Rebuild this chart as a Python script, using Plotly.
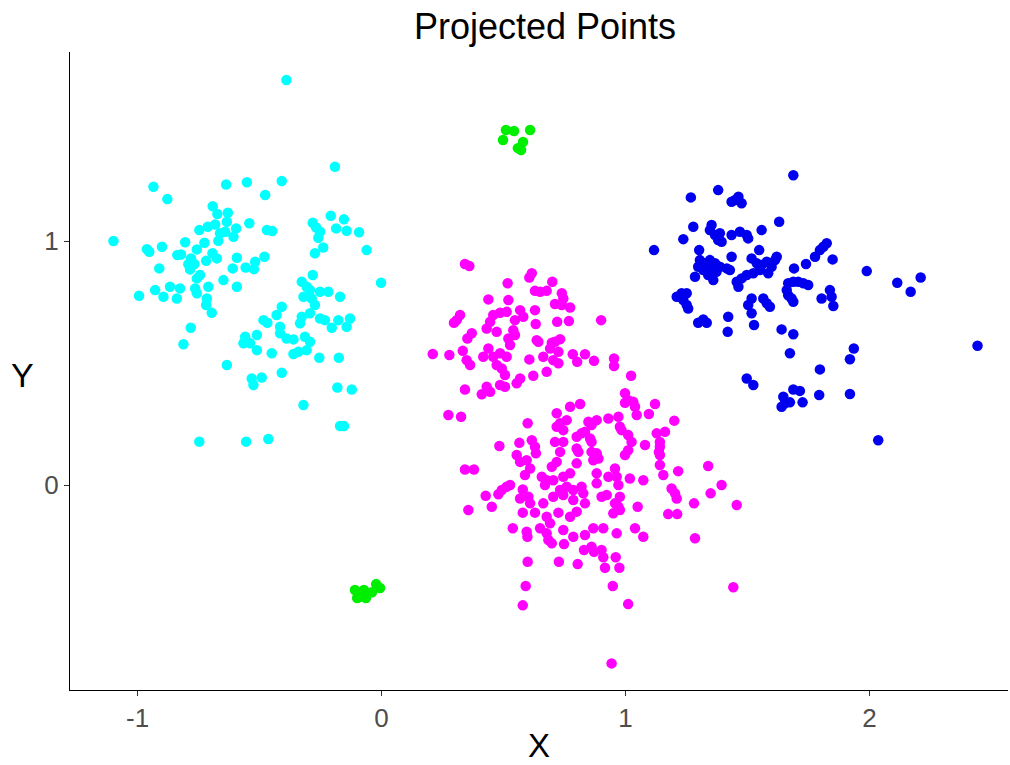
import plotly.graph_objects as go

# Cluster point data (x, y)
cyan_pts = [
(-0.935,1.223),(-0.878,1.172),(-0.637,1.232),(-0.552,1.241),(-1.099,1.000),(-0.692,1.143),(-0.673,1.111),(-0.630,1.116),
(-0.634,1.079),(-0.542,1.073),(-0.747,1.045),(-0.712,1.059),(-0.682,1.068),(-0.662,1.032),(-0.641,1.038),(-0.596,1.052),
(-0.607,1.018),(-0.669,1.001),(-0.962,0.967),(-0.952,0.956),(-0.900,0.977),(-0.805,0.995),(-0.726,0.993),(-0.757,0.966),
(-0.837,0.943),(-0.822,0.945),(-0.781,0.929),(-0.693,0.950),(-0.675,0.929),(-0.719,0.919),(-0.593,0.932),(-0.911,0.888),
(-0.792,0.905),(-0.767,0.906),(-0.785,0.884),(-0.610,0.888),(-0.557,0.892),(-0.744,0.861),(-0.757,0.847),(-0.648,0.840),
(-0.593,0.813),(-0.867,0.813),(-0.826,0.806),(-0.928,0.799),(-0.894,0.772),(-0.839,0.765),(-0.994,0.776),(-0.764,0.806),
(-0.757,0.786),(-0.710,0.813),(-0.716,0.765),(-0.719,0.738),(-0.696,0.706),(-0.782,0.645),
(-0.191,1.305),(-0.409,1.246),(-0.477,1.189),(-0.208,1.104),(-0.154,1.089),(-0.282,1.075),(-0.186,1.052),(-0.143,1.042),
(-0.092,1.036),(-0.470,1.045),(-0.448,1.041),(-0.268,1.056),(-0.252,1.038),(-0.259,1.014),(-0.239,0.974),(-0.273,0.950),
(-0.061,0.963),(-0.480,0.936),(-0.518,0.915),(-0.523,0.885),(-0.002,0.829),(-0.282,0.861),(-0.327,0.833),(-0.307,0.813),
(-0.293,0.799),(-0.252,0.792),(-0.218,0.792),(-0.320,0.772),(-0.286,0.765),(-0.273,0.738),(-0.170,0.772),(-0.409,0.731),
(-0.812,0.577),(-0.430,0.697),(-0.484,0.676),(-0.468,0.665),(-0.327,0.690),(-0.293,0.704),(-0.252,0.683),(-0.232,0.676),
(-0.177,0.676),(-0.129,0.683),(-0.204,0.645),(-0.143,0.649),(-0.334,0.663),(-0.416,0.649),(-0.416,0.622),(-0.389,0.601),
(-0.361,0.597),(-0.511,0.615),(-0.559,0.608),(-0.566,0.581),(-0.539,0.581),(-0.511,0.553),(-0.450,0.540),(-0.314,0.608),
(-0.293,0.587),(-0.307,0.553),(-0.341,0.546),(-0.361,0.537),(-0.255,0.522),(-0.175,0.522),(-0.634,0.492),(-0.409,0.460),
(-0.532,0.437),(-0.491,0.441),(-0.525,0.410),(-0.181,0.400),(-0.122,0.392),(-0.320,0.328),(-0.170,0.242),(-0.154,0.242),
(-0.747,0.178),(-0.555,0.178),(-0.464,0.189),(-0.390,1.660),
]

magenta_pts = [
(0.342,0.906),(0.360,0.898),(0.517,0.827),(0.438,0.761),(0.520,0.758),(0.322,0.697),(0.308,0.676),(0.297,0.665),
(0.458,0.697),(0.486,0.706),(0.445,0.669),(0.431,0.642),(0.472,0.628),(0.513,0.710),(0.370,0.622),(0.352,0.601),
(0.520,0.601),(0.210,0.537),(0.278,0.533),(0.333,0.550),(0.349,0.512),(0.363,0.492),(0.438,0.560),(0.417,0.526),
(0.458,0.526),(0.486,0.540),(0.513,0.526),(0.472,0.492),(0.493,0.478),(0.506,0.451),(0.342,0.392),(0.431,0.403),
(0.445,0.382),(0.411,0.372),(0.486,0.410),(0.506,0.403),
(0.616,0.868),(0.606,0.851),(0.700,0.833),(0.629,0.796),(0.650,0.792),(0.677,0.796),(0.739,0.786),(0.745,0.765),
(0.711,0.742),(0.739,0.738),(0.773,0.728),(0.629,0.717),(0.568,0.717),(0.581,0.690),(0.547,0.676),(0.720,0.669),
(0.768,0.672),(0.900,0.676),(0.632,0.660),(0.540,0.635),(0.547,0.615),(0.527,0.574),(0.636,0.594),(0.643,0.587),
(0.698,0.583),(0.711,0.587),(0.732,0.598),(0.691,0.560),(0.725,0.546),(0.663,0.526),(0.704,0.512),(0.725,0.499),
(0.606,0.515),(0.677,0.464),(0.784,0.536),(0.802,0.505),(0.834,0.536),(0.871,0.509),(0.953,0.519),(0.953,0.488),
(1.023,0.448),(0.622,0.448),(0.568,0.437),(0.554,0.417),(0.998,0.376),(1.011,0.348),(1.032,0.341),(1.121,0.332),
(0.773,0.321),(0.814,0.332),
(0.274,0.287),(0.326,0.280),(0.599,0.253),(0.718,0.294),(0.732,0.253),(0.759,0.266),(0.718,0.239),(0.745,0.225),
(0.483,0.160),(0.565,0.173),(0.616,0.184),(0.629,0.157),(0.633,0.130),(0.711,0.177),(0.745,0.177),(0.732,0.136),
(0.718,0.095),(0.698,0.075),(0.800,0.198),(0.800,0.150),(0.554,0.123),(0.568,0.095),(0.595,0.102),(0.609,0.068),
(0.588,0.041),(0.342,0.064),(0.379,0.064),(0.657,0.034),(0.677,0.020),(0.670,0.000),(0.704,0.020),(0.745,0.034),
(0.773,0.048),(0.759,-0.007),(0.732,-0.020),(0.493,-0.020),(0.513,-0.007),(0.527,0.000),(0.427,-0.044),(0.479,-0.038),
(0.579,-0.018),(0.568,-0.055),(0.602,-0.048),(0.609,-0.075),(0.663,-0.075),(0.704,-0.048),(0.745,-0.041),(0.786,-0.061),
(0.786,-0.020),(0.356,-0.102),(0.452,-0.089),(0.579,-0.113),(0.629,-0.113),(0.677,-0.130),(0.725,-0.113),(0.773,-0.130),
(0.800,-0.109),(0.538,-0.177),(0.595,-0.191),(0.650,-0.177),(0.677,-0.198),(0.745,-0.184),(0.786,-0.212),
(1.039,0.321),(0.998,0.337),(1.096,0.291),(1.046,0.287),(0.971,0.280),(0.930,0.273),(0.882,0.266),(0.848,0.259),
(0.861,0.246),(1.200,0.264),(0.977,0.239),(0.984,0.225),(1.128,0.212),(1.162,0.218),(0.820,0.212),(0.834,0.218),
(0.855,0.191),(0.861,0.177),(1.011,0.205),(1.025,0.177),(1.011,0.143),(0.998,0.123),(1.080,0.164),(1.141,0.177),
(1.141,0.157),(1.137,0.136),(1.141,0.123),(0.807,0.136),(0.861,0.136),(0.882,0.130),(0.868,0.102),(0.889,0.109),
(0.800,0.089),(1.141,0.082),(1.155,0.041),(1.339,0.078),(1.216,0.057),(0.957,0.068),(0.930,0.034),(0.964,0.034),
(0.971,0.000),(0.882,0.048),(0.882,0.007),(1.018,0.027),(1.073,0.020),(0.820,-0.007),(0.827,-0.034),(1.189,-0.014),
(1.203,-0.034),(1.210,-0.055),(1.394,0.000),(1.349,-0.034),(0.902,-0.048),(0.923,-0.041),(0.977,-0.048),(0.834,-0.075),
(0.957,-0.075),(0.971,-0.089),(0.950,-0.116),(0.977,-0.102),(1.050,-0.089),(1.281,-0.075),(1.456,-0.082),(1.175,-0.119),
(1.212,-0.119),(0.868,-0.177),(0.909,-0.177),(0.964,-0.198),(1.039,-0.177),(1.073,-0.212),(0.834,-0.205),(1.285,-0.218),
(0.598,-0.212),(0.691,-0.157),(0.684,-0.225),(0.698,-0.239),(0.748,-0.242),(0.830,-0.266),(0.861,-0.253),(0.871,-0.273),
(0.902,-0.266),(0.909,-0.296),(0.960,-0.296),(0.916,-0.339),(0.975,-0.339),(0.599,-0.314),(0.727,-0.314),(0.804,-0.324),
(0.591,-0.414),(0.948,-0.414),(1.442,-0.419),(0.579,-0.493),(1.011,-0.488),(0.943,-0.731),
]

blue_pts = [
(1.688,1.270),(1.268,1.179),(1.380,1.209),(1.449,1.168),(1.463,1.182),(1.476,1.155),(1.435,1.161),(1.278,1.059),
(1.237,1.008),(1.302,0.963),(1.353,1.066),(1.346,1.045),(1.367,1.025),(1.387,1.032),(1.380,1.004),(1.394,0.997),
(1.435,1.025),(1.469,1.038),(1.497,1.025),(1.503,1.011),(1.558,1.045),(1.630,1.079),(1.117,0.963),(1.548,0.963),
(1.435,0.936),(1.305,0.922),(1.326,0.909),(1.346,0.922),(1.367,0.909),(1.387,0.895),(1.415,0.888),(1.428,0.881),
(1.298,0.895),(1.319,0.881),(1.346,0.881),(1.373,0.874),(1.339,0.861),(1.360,0.840),(1.285,0.854),(1.517,0.929),
(1.538,0.909),(1.558,0.902),(1.579,0.915),(1.599,0.895),(1.613,0.922),(1.620,0.936),(1.585,0.868),(1.551,0.881),
(1.524,0.868),(1.497,0.861),(1.476,0.847),(1.456,0.833),(1.463,0.813),(1.691,0.888),(1.740,0.906),(1.667,0.827),
(1.688,0.833),(1.708,0.833),(1.729,0.827),(1.749,0.820),(1.661,0.799),(1.667,0.778),(1.681,0.765),(1.688,0.751),
(1.210,0.772),(1.230,0.786),(1.251,0.786),(1.237,0.758),(1.251,0.738),(1.257,0.724),(1.517,0.765),(1.503,0.738),
(1.517,0.704),(1.565,0.765),(1.579,0.745),(1.592,0.731),(1.319,0.679),(1.421,0.690),
(1.825,0.991),(1.811,0.977),(1.797,0.963),(1.777,0.936),(1.849,0.925),(1.989,0.877),(2.114,0.829),(2.169,0.792),
(2.210,0.851),(1.804,0.765),(1.838,0.799),(1.845,0.772),(1.852,0.734),(1.688,0.618),(1.674,0.540),(1.936,0.560),
(1.920,0.516),(1.797,0.474),(1.688,0.392),(1.715,0.386),(1.674,0.339),(1.726,0.339),(1.794,0.369),(1.920,0.373),
(2.443,0.571),(2.036,0.184),
(1.298,0.665),(1.333,0.665),(1.419,0.628),(1.527,0.656),(1.640,0.638),(1.497,0.437),(1.524,0.410),(1.647,0.362),
(1.654,0.335),(1.640,0.321),
]

green_pts = [
(0.510,1.455),(0.543,1.451),(0.609,1.455),(0.498,1.414),(0.559,1.381),(0.580,1.406),(0.572,1.373),
(-0.109,-0.430),(-0.088,-0.459),(-0.064,-0.463),(-0.039,-0.439),(-0.022,-0.406),(-0.006,-0.422),(-0.100,-0.463),(-0.072,-0.430),
]

clusters = [
    ("cyan", cyan_pts, "#00FFFF"),
    ("magenta", magenta_pts, "#FF00FF"),
    ("blue", blue_pts, "#0000EE"),
    ("green", green_pts, "#00EE00"),
]

x_tickvals = [-1, 0, 1, 2]
x_ticklabels = ["-1", "0", "1", "2"]
y_tickvals = [0, 1]
y_ticklabels = ["0", "1"]
title_text = "Projected Points"
x_title = "X"
y_title = "Y"

fig = go.Figure()
for name, pts, col in clusters:
    xs = [p[0] for p in pts]
    ys = [p[1] for p in pts]
    fig.add_trace(go.Scatter(x=xs, y=ys, mode="markers", name=name,
                             marker=dict(size=10.5, color=col, line=dict(width=0))))

font_family = "Liberation Sans, Arial, sans-serif"
W, H = 1010, 765
fig.update_layout(
    width=W, height=H,
    margin=dict(l=70, r=2, t=52, b=75),
    paper_bgcolor="white", plot_bgcolor="white",
    showlegend=False,
    font=dict(family=font_family),
    title=dict(text=title_text, x=545 / W, xanchor="center", y=1 - 26/H, yanchor="middle",
               font=dict(size=36, color="black", family=font_family)),
    xaxis=dict(range=[-1.277, 2.568], tickvals=x_tickvals, ticktext=x_ticklabels,
               showgrid=False, zeroline=False,
               showline=True, linecolor="black", linewidth=1.2,
               ticks="outside", ticklen=5, tickcolor="#333333",
               tickfont=dict(size=26, color="#4D4D4D")),
    yaxis=dict(range=[-0.840, 1.775], tickvals=y_tickvals, ticktext=y_ticklabels,
               showgrid=False, zeroline=False,
               showline=True, linecolor="black", linewidth=1.2,
               ticks="outside", ticklen=5, tickcolor="#333333",
               tickfont=dict(size=26, color="#4D4D4D")),
    annotations=[
        dict(text=x_title, xref="paper", yref="paper", x=0.5, y=0, xanchor="center", yanchor="middle",
             yshift=-55, showarrow=False, font=dict(size=33, color="black", family=font_family)),
        dict(text=y_title, xref="paper", yref="paper", x=0, y=0.494, xanchor="center", yanchor="middle",
             xshift=-48, showarrow=False, font=dict(size=34, color="black", family=font_family)),
    ],
)

fig.write_html("out.html", config={"displayModeBar": False},
               post_script="document.body.style.margin='0';document.body.style.overflow='hidden';")
